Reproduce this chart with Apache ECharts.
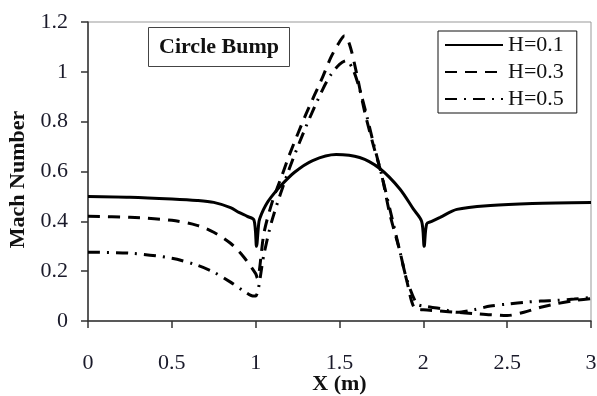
<!DOCTYPE html>
<html>
<head>
<meta charset="utf-8">
<script src="https://cdn.jsdelivr.net/npm/echarts@6/dist/echarts.min.js"></script>
<style>
  html, body { margin: 0; padding: 0; background: #fff; }
  #chart { width: 597px; height: 396px; }
</style>
</head>
<body>
<div id="chart"></div>
<script>
// 数据
var xTicks = [0, 0.5, 1, 1.5, 2, 2.5, 3];
var yTicks = [0, 0.2, 0.4, 0.6, 0.8, 1, 1.2];

var h1X = [0, 0.25, 0.5, 0.65, 0.75, 0.85, 0.9, 0.95, 0.99, 1.005, 1.02, 1.035, 1.06, 1.09, 1.14, 1.23, 1.34, 1.48, 1.62, 1.74, 1.86, 1.94, 1.99, 2.005, 2.02, 2.05, 2.1, 2.2, 2.4, 2.65, 3];
var h1Y = [0.50, 0.497, 0.49, 0.484, 0.476, 0.455, 0.436, 0.42, 0.405, 0.30, 0.40, 0.43, 0.465, 0.495, 0.536, 0.596, 0.644, 0.668, 0.656, 0.612, 0.53, 0.45, 0.40, 0.30, 0.39, 0.40, 0.416, 0.448, 0.464, 0.472, 0.476];

var h3X = [0, 0.25, 0.5, 0.65, 0.75, 0.85, 0.93, 1.0, 1.01, 1.05, 1.1, 1.16, 1.2, 1.3, 1.4, 1.45, 1.5, 1.53, 1.56, 1.6, 1.65, 1.7, 1.75, 1.8, 1.86, 1.9, 1.95, 2.0, 2.1, 2.2, 2.3, 2.4, 2.5, 2.6, 2.7, 2.8, 2.9, 3.0];
var h3Y = [0.42, 0.416, 0.404, 0.384, 0.356, 0.312, 0.256, 0.19, 0.172, 0.355, 0.48, 0.59, 0.665, 0.83, 0.98, 1.06, 1.12, 1.145, 1.11, 1.0, 0.84, 0.71, 0.59, 0.43, 0.28, 0.165, 0.05, 0.045, 0.04, 0.035, 0.03, 0.025, 0.022, 0.035, 0.055, 0.07, 0.082, 0.09];

var h5X = [0, 0.25, 0.5, 0.65, 0.75, 0.85, 0.93, 0.99, 1.0, 1.05, 1.1, 1.2, 1.3, 1.4, 1.45, 1.5, 1.54, 1.58, 1.62, 1.66, 1.7, 1.75, 1.8, 1.86, 1.9, 1.96, 2.0, 2.1, 2.2, 2.3, 2.4, 2.5, 2.6, 2.7, 2.8, 2.9, 3.0];
var h5Y = [0.276, 0.272, 0.252, 0.224, 0.196, 0.156, 0.12, 0.10, 0.10, 0.27, 0.41, 0.61, 0.78, 0.93, 0.99, 1.03, 1.045, 1.01, 0.93, 0.83, 0.72, 0.59, 0.45, 0.28, 0.17, 0.07, 0.06, 0.05, 0.035, 0.045, 0.06, 0.068, 0.075, 0.08, 0.083, 0.088, 0.095];

var seriesNames = ['H=0.1', 'H=0.3', 'H=0.5'];

function zip(xs, ys) {
  var out = [];
  for (var i = 0; i < xs.length; i++) out.push([xs[i], ys[i]]);
  return out;
}

var font = 'Liberation Serif, Times New Roman, serif';
var chart = echarts.init(document.getElementById('chart'));

var option = {
  backgroundColor: '#fff',
  animation: false,
  title: {
    text: 'Circle Bump',
    left: 148,
    top: 27,
    padding: [9, 11, 9, 11],
    borderColor: '#444',
    borderWidth: 1,
    textStyle: { fontFamily: font, fontSize: 22, fontWeight: 'bold', color: '#111' }
  },
  legend: {
    orient: 'vertical',
    left: 438,
    top: 31,
    padding: [3, 13, 3, 6],
    itemGap: 5,
    itemWidth: 58,
    itemHeight: 14,
    borderColor: '#111',
    borderWidth: 1,
    data: seriesNames,
    itemStyle: { opacity: 0, borderWidth: 0 }, // 图例只画线, 不画圆点
    textStyle: { fontFamily: font, fontSize: 22, color: '#111' }
  },
  grid: {
    left: 88, right: 6, top: 22, bottom: 75,
    outerBoundsMode: 'none',
    show: true, borderColor: '#999', borderWidth: 1
  },
  xAxis: {
    type: 'value', min: xTicks[0], max: xTicks[xTicks.length - 1], interval: 0.5,
    name: 'X (m)', nameLocation: 'middle', nameGap: 52, nameMoveOverlap: false,
    nameTextStyle: { fontFamily: font, fontSize: 22, fontWeight: 'bold', color: '#111' },
    axisLine: { show: true, lineStyle: { color: '#333', width: 1.5 } },
    axisTick: { show: true, inside: false, length: 7, lineStyle: { color: '#333', width: 1.5 } },
    axisLabel: { fontFamily: font, fontSize: 22, color: '#1a1a2a', margin: 31 },
    splitLine: { show: false }
  },
  yAxis: {
    type: 'value', min: yTicks[0], max: yTicks[yTicks.length - 1], interval: 0.2,
    name: 'Mach Number', nameLocation: 'middle', nameGap: 59,
    nameTextStyle: { fontFamily: font, fontSize: 22, fontWeight: 'bold', color: '#111', padding: [0, 16, 0, 0] },
    axisLine: { show: true, lineStyle: { color: '#333', width: 1.5 } },
    axisTick: { show: true, inside: false, length: 7, lineStyle: { color: '#333', width: 1.5 } },
    axisLabel: {
      fontFamily: font, fontSize: 22, color: '#1a1a2a', margin: 20,
      formatter: function (v) { return String(Math.round(v * 10) / 10); }
    },
    splitLine: { show: false }
  },
  series: [
    {
      name: seriesNames[0], type: 'line', symbol: 'none', smooth: 0.3,
      lineStyle: { color: '#000', width: 3, type: 'solid' },
      itemStyle: { color: '#000' },
      data: zip(h1X, h1Y)
    },
    {
      name: seriesNames[1], type: 'line', symbol: 'none', smooth: 0.3,
      lineStyle: { color: '#000', width: 3, type: [12, 8] },
      itemStyle: { color: '#000' },
      data: zip(h3X, h3Y)
    },
    {
      name: seriesNames[2], type: 'line', symbol: 'none', smooth: 0.3,
      lineStyle: { color: '#000', width: 3, type: [12, 7, 2, 7] },
      itemStyle: { color: '#000' },
      data: zip(h5X, h5Y)
    }
  ]
};
chart.setOption(option);
</script>
</body>
</html>
